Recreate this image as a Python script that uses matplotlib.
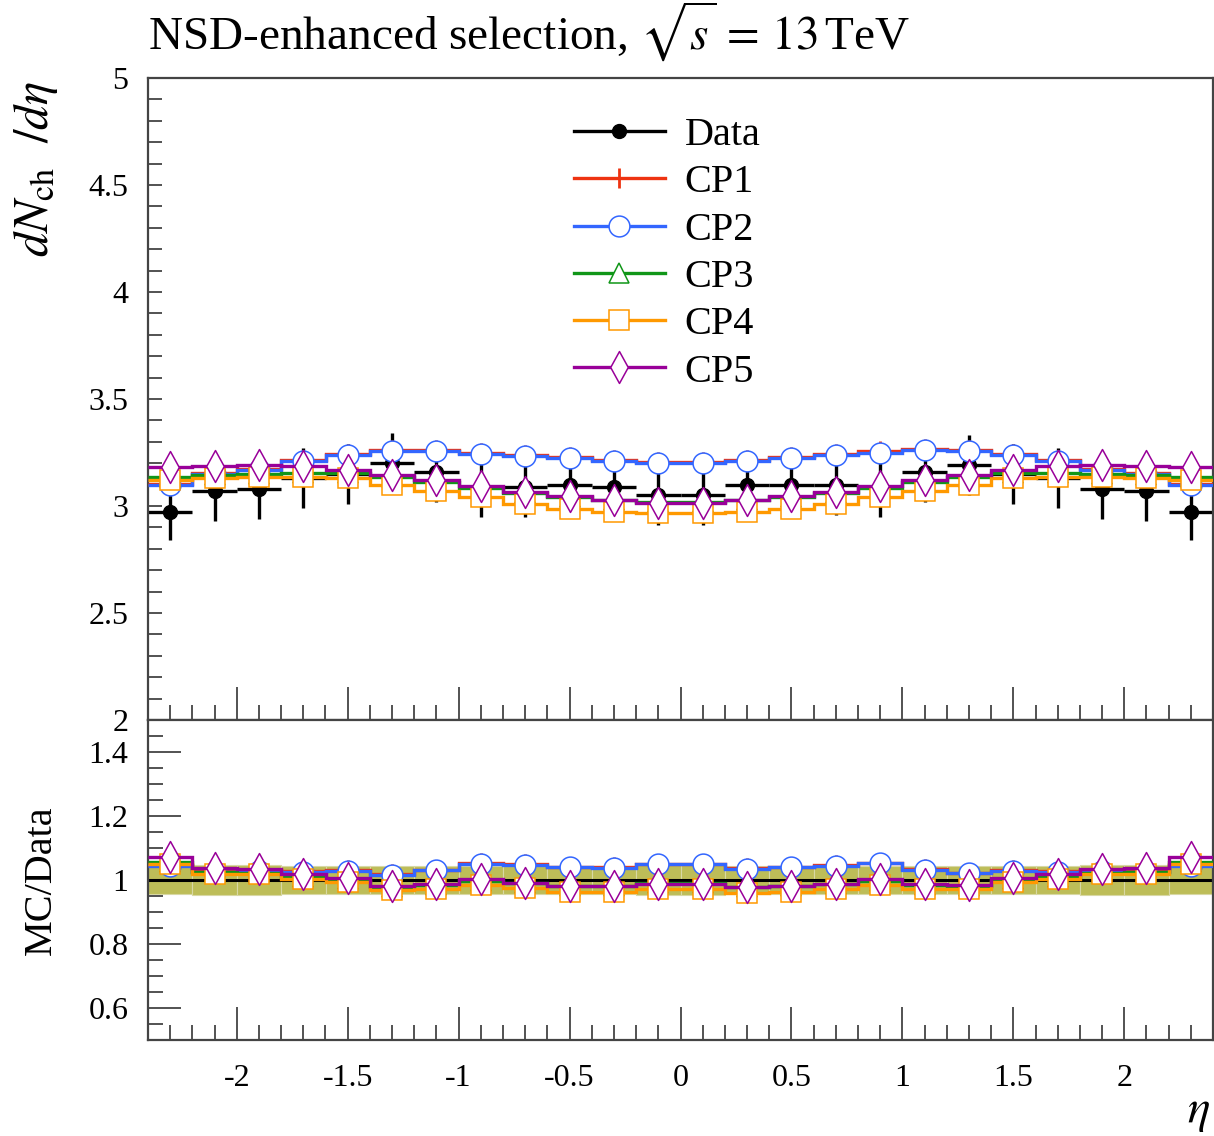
import numpy as np
import matplotlib
matplotlib.use("Agg")
import matplotlib.pyplot as plt
from matplotlib.ticker import MultipleLocator, FormatStrFormatter
from matplotlib.lines import Line2D
from matplotlib.path import Path

# eta binning (0.2 wide bins from -2.4 to 2.4)
eta_edges = np.linspace(-2.4, 2.4, 25)
eta = 0.5 * (eta_edges[:-1] + eta_edges[1:])

data = [2.97, 3.07, 3.08, 3.13, 3.15, 3.20, 3.16, 3.09, 3.09, 3.10, 3.09, 3.05,
        3.05, 3.10, 3.10, 3.10, 3.09, 3.16, 3.19, 3.15, 3.13, 3.08, 3.07, 2.97]
data_err = [0.13, 0.14, 0.14, 0.14, 0.14, 0.14, 0.14, 0.14, 0.14, 0.14, 0.14, 0.14,
            0.14, 0.14, 0.14, 0.14, 0.14, 0.14, 0.14, 0.14, 0.14, 0.14, 0.14, 0.13]

cp1 = [3.105, 3.155, 3.175, 3.215, 3.245, 3.26, 3.26, 3.25, 3.24, 3.23, 3.215, 3.205,
       3.205, 3.215, 3.23, 3.245, 3.255, 3.265, 3.26, 3.245, 3.215, 3.175, 3.155, 3.105]
cp2 = [3.10, 3.15, 3.17, 3.21, 3.24, 3.255, 3.255, 3.245, 3.235, 3.225, 3.21, 3.20,
       3.20, 3.21, 3.225, 3.24, 3.25, 3.26, 3.255, 3.24, 3.21, 3.17, 3.15, 3.10]
cp3 = [3.135, 3.145, 3.15, 3.155, 3.155, 3.135, 3.11, 3.085, 3.06, 3.04, 3.03, 3.02,
       3.02, 3.03, 3.04, 3.06, 3.085, 3.11, 3.135, 3.155, 3.155, 3.15, 3.145, 3.135]
cp4 = [3.12, 3.13, 3.135, 3.135, 3.13, 3.10, 3.07, 3.04, 3.01, 2.985, 2.97, 2.965,
       2.965, 2.97, 2.985, 3.01, 3.04, 3.07, 3.10, 3.13, 3.135, 3.135, 3.13, 3.12]
cp5 = [3.18, 3.185, 3.19, 3.185, 3.17, 3.145, 3.12, 3.095, 3.065, 3.045, 3.03, 3.015,
       3.015, 3.03, 3.045, 3.065, 3.095, 3.12, 3.145, 3.17, 3.185, 3.19, 3.185, 3.18]

labels = ["CP1", "CP2", "CP3", "CP4", "CP5"]
series = [cp1, cp2, cp3, cp4, cp5]
colors = ["#EE3311", "#3366FF", "#109618", "#FF9900", "#990099"]

tall_diamond = Path([(0, 1), (0.55, 0), (0, -1), (-0.55, 0), (0, 1)],
                    [Path.MOVETO, Path.LINETO, Path.LINETO, Path.LINETO, Path.CLOSEPOLY])
markers = ["+", "o", "^", "s", tall_diamond]
msizes = [15, 15, 15, 15, 23]

plt.rcParams["font.family"] = ["Liberation Serif", "DejaVu Serif"]
plt.rcParams["mathtext.fontset"] = "stix"
plt.rcParams["axes.unicode_minus"] = False

W, H = 1214, 1136
fig = plt.figure(figsize=(W / 100, H / 100), dpi=100)
left = 148 / W
width = (1213 - 148) / W
ax1 = fig.add_axes([left, 1 - 720 / H, width, (720 - 78) / H])
ax2 = fig.add_axes([left, 1 - 1040 / H, width, 320 / H], sharex=ax1)

data = np.array(data)
data_err = np.array(data_err)


def draw_mc(ax, values):
    for i, (vals, c, m, ms) in enumerate(zip(values, colors, markers, msizes)):
        ax.stairs(vals, eta_edges, baseline=None, color=c, lw=2.4, zorder=3 + i)
        if m == "+":
            ax.plot(eta, vals, ls="none", marker=m, ms=ms, mew=2, color=c, zorder=3 + i)
        else:
            ax.plot(eta, vals, ls="none", marker=m, ms=ms, mew=1.1, mec=c,
                    mfc="white", zorder=3 + i)


# main panel
ax1.errorbar(eta, data, yerr=data_err, xerr=0.1, fmt="o", color="black",
             ms=10, elinewidth=2.4, capsize=0, zorder=2)
draw_mc(ax1, series)

# ratio panel
rel = data_err / data
ax2.bar(eta, 2 * rel, bottom=1 - rel, width=0.2, color="#BDBD58",
        edgecolor="#D8D8A4", lw=0.8, zorder=1)
ax2.stairs(data / data, eta_edges, baseline=None, color="black", lw=2.2, zorder=2)
draw_mc(ax2, [np.array(v) / data for v in series])

# axes styling
ax1.set_xlim(-2.4, 2.4)
ax1.set_ylim(2, 5)
ax2.set_ylim(0.5, 1.5)

for ax in (ax1, ax2):
    for s in ax.spines.values():
        s.set_linewidth(1.6)
        s.set_color("#444444")
    ax.tick_params(which="both", direction="in", top=False, right=False,
                   width=1.3, color="#444444", labelsize=23, pad=14)
    ax.tick_params(axis="x", which="major", length=24)
    ax.tick_params(axis="x", which="minor", length=11)
    ax.xaxis.set_major_locator(MultipleLocator(0.5))
    ax.xaxis.set_minor_locator(MultipleLocator(0.1))
    ax.xaxis.set_major_formatter(FormatStrFormatter("%g"))
    ax.yaxis.set_major_formatter(FormatStrFormatter("%g"))

ax1.yaxis.set_major_locator(MultipleLocator(0.5))
ax1.yaxis.set_minor_locator(MultipleLocator(0.1))
ax1.tick_params(axis="y", which="both", length=10)
ax1.tick_params(axis="x", labelbottom=False)

ax2.yaxis.set_major_locator(MultipleLocator(0.2))
ax2.yaxis.set_minor_locator(MultipleLocator(0.05))
ax2.tick_params(axis="y", which="major", length=24)
ax2.tick_params(axis="y", which="minor", length=11)
ax2.tick_params(axis="x", pad=17)

ax1.set_ylabel(r"$dN_{\mathrm{ch}}\ \ /d\eta$", fontsize=35, loc="top")
ax1.yaxis.set_label_coords(-0.083, 0.995)
ax2.set_ylabel("MC/Data", fontsize=29)
ax2.yaxis.set_label_coords(-0.083, 0.5)
ax2.set_xlabel(r"$\eta$", fontsize=34, loc="right")
ax2.xaxis.set_label_coords(0.997, -0.16)

fig.text(left, 1 - 50 / H, r"NSD-enhanced selection, $\sqrt{s}\,=\,13\,$TeV",
         fontsize=34, ha="left", va="baseline")

# legend
handles = [Line2D([], [], color="black", marker="o", ms=10, lw=2.4)]
for c, m, ms in zip(colors, markers, msizes):
    if m == "+":
        handles.append(Line2D([], [], color=c, marker=m, ms=ms, mew=2, lw=2.4))
    else:
        handles.append(Line2D([], [], color=c, marker=m, ms=ms, mew=1.1, mec=c,
                              mfc="white", lw=2.4))
ax1.legend(handles, ["Data"] + labels, loc="upper left",
           bbox_to_anchor=(574 / W, 1 - 117 / H), bbox_transform=fig.transFigure,
           frameon=False, fontsize=29, handlelength=2.25, handletextpad=0.5,
           labelspacing=0.25, borderpad=0, borderaxespad=0)

fig.savefig("out.png", dpi=100)
